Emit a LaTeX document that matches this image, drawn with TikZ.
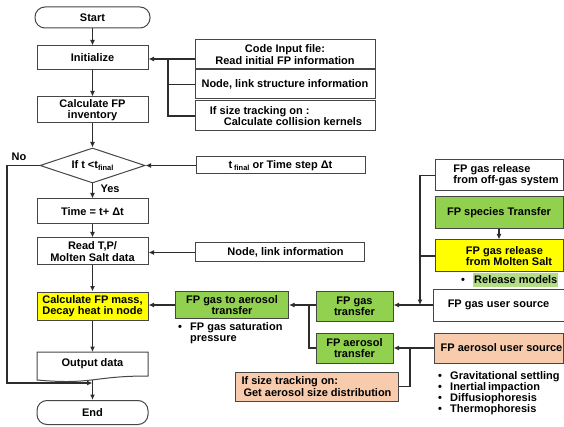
\documentclass[tikz,border=0pt]{standalone}
\usepackage{fontspec}
\setmainfont{Liberation Sans}
\usetikzlibrary{arrows.meta,shapes.geometric}
\definecolor{bc}{RGB}{70,70,70}
\definecolor{lc}{RGB}{45,45,45}
\definecolor{gr}{RGB}{146,208,80}
\definecolor{ye}{RGB}{255,255,0}
\definecolor{pe}{RGB}{248,203,173}
\newcommand\tsub[1]{\raisebox{-2pt}{\fontsize{7.5}{7.5}\selectfont #1}}
\newcommand\bul{\makebox[12pt][l]{•}}
\begin{document}
\begin{tikzpicture}[x=1pt,y=-1pt,
  font=\fontsize{11}{11.2}\selectfont\bfseries,
  box/.style={draw=bc, line width=1pt, inner sep=0pt, align=center, fill=white},
  gbox/.style={box, fill=gr},
  ybox/.style={box, fill=ye},
  pbox/.style={box, fill=pe},
  arr/.style={-{Latex[length=5.5pt,width=5pt]}, line width=1.1pt, draw=lc},
  ln/.style={line width=1.1pt, draw=lc},
  txt/.style={inner sep=0pt, align=left}]
\useasboundingbox (0,0) rectangle (564,427);

% ---- left column
\node[box, rounded corners=10pt, minimum width=115pt, minimum height=21pt] (start) at (92.5,17.5) {Start};
\node[box, minimum width=111pt, minimum height=24pt] (init) at (92.5,58) {Initialize};
\node[box, minimum width=111pt, minimum height=26pt] (calc) at (92.5,110) {Calculate FP\\inventory};
\node[box, shape=diamond, aspect=3, minimum width=105pt, minimum height=35pt] (dec) at (92.5,165.5) {\raisebox{-3pt}{If t <t\tsub{final}}};
\node[box, minimum width=111pt, minimum height=25pt] (time) at (92.5,211.5) {Time = t+ Δt};
\node[box, minimum width=111pt, minimum height=27pt] (read) at (92.5,251.5) {Read T,P/\\Molten Salt data};
\node[ybox, minimum width=111pt, minimum height=28pt] (mass) at (92.5,306) {Calculate FP mass,\\Decay heat in node};
\draw[draw=bc, line width=1pt, fill=white] (37,352) -- (148,352) -- (148,376) .. controls (92.5,376) and (92.5,385) .. (37,380) -- cycle;
\node[txt] (out) at (92.5,364) {Output data};
\coordinate (outb) at (92.5,380);
\node[box, rounded corners=10pt, minimum width=111pt, minimum height=24pt] (end) at (92.5,412.5) {End};

\node[txt] (no) at (19,157) {No};
\node[txt] (yes) at (110,189) {Yes};

% ---- top right inputs
\node[box, minimum width=180pt, minimum height=29pt] (code) at (285,54.5) {Code Input file:\\Read initial FP information};
\node[box, minimum width=180pt, minimum height=29pt] (struct) at (285,84.5) {Node, link structure information};
\node[box, minimum width=180pt, minimum height=30pt, align=left] (size) at (285,116) {\hspace*{2pt}If size tracking on :\\\hspace*{16pt}Calculate collision kernels};
\node[box, minimum width=169pt, minimum height=17pt] (tfin) at (280.5,165.5) {t\,\tsub{final} or Time step Δt};
\node[box, minimum width=169pt, minimum height=19pt] (linfo) at (279.5,252.5) {\hspace*{12pt}Node, link information};

% ---- right column
\node[box, minimum width=128pt, minimum height=31pt, align=left] (offgas) at (499,175.5) {\hspace*{14pt}FP gas release\\\hspace*{14pt}from off-gas system};
\node[gbox, minimum width=128pt, minimum height=32pt] (species) at (499,213) {FP species Transfer};
\node[ybox, minimum width=128pt, minimum height=32pt, align=left] (molten) at (499,256) {\hspace*{20pt}FP gas release\\\hspace*{20pt}from Molten Salt};
\node[txt, anchor=west] (rel) at (461,280) {\bul\colorbox{gr!70}{\hspace*{-2pt}Release models\hspace*{-2pt}}};
\node[box, minimum width=131pt, minimum height=32pt] (gasuser) at (498.5,305) {FP gas user source};
\node[pbox, minimum width=129pt, minimum height=30pt] (aeruser) at (498.5,348) {\hspace*{6pt}FP aerosol user source};
\node[txt, anchor=north west, font=\fontsize{11}{11}\selectfont\bfseries] (mech) at (438,371) {\bul Gravitational settling\\\bul Inertial\,impaction\\\bul Diffusiophoresis\\\bul Thermophoresis};

% ---- middle
\node[gbox, minimum width=77pt, minimum height=30pt] (gastr) at (354.5,306) {FP gas\\transfer};
\node[gbox, minimum width=77pt, minimum height=30pt] (aertr) at (354.5,348) {FP aerosol\\transfer};
\node[gbox, minimum width=113pt, minimum height=27pt] (gasaer) at (232,305) {FP gas to aerosol\\transfer};
\node[txt, anchor=north west] (sat) at (178,322) {\bul FP gas saturation\\\hspace*{12pt}pressure};
\node[pbox, minimum width=163pt, minimum height=29pt, align=left] (sizeon) at (316.5,386.5) {If size tracking on:\\\hspace*{2pt}Get aerosol size distribution};

% ---- main flow connectors
\draw[arr] (start) -- (init);
\draw[arr] (init) -- (calc);
\draw[arr] (calc) -- (dec.north);
\draw[arr] (dec.south) -- (time);
\draw[arr] (time) -- (read);
\draw[arr] (read) -- (mass);
\draw[arr] (mass) -- (92.5,352);
\draw[arr] (outb) -- (end);
\coordinate (lp1) at (7,165.5);
\coordinate (lp2) at (7,383);
\coordinate (lp3) at (92.5,383);
\draw[arr] (dec.west) -- (lp1) -- (lp2) -- (lp3);

% ---- input connectors
\coordinate (bx) at (168,59);
\draw[arr] (bx) -- (init.east |- bx);
\draw[ln] (code.west |- bx) -- (bx);
\draw[ln] (struct.west) -- (168,84.5) -- (bx);
\draw[ln] (size.west) -- (168,116) -- (168,84.5);
\draw[arr] (tfin) -- (dec.east);
\draw[arr] (linfo.west) -- (read.east |- linfo.west);

% ---- right side connectors
\coordinate (v1) at (420,175.5);
\coordinate (v2) at (420,305);
\draw[ln] (offgas.west) -- (v1);
\draw[arr] (v1) -- (v2);
\draw[ln] (molten.west) -- (420,256);
\draw[arr] (species) -- (molten);
\draw[arr] (gasuser.west) -- (gastr.east |- gasuser.west);
\draw[arr] (gastr.west |- gasaer.east) -- (gasaer.east);
\draw[ln] (309,305) -- (309,348) -- (aertr.west);
\draw[arr] (gasaer.west) -- (mass.east |- gasaer.west);
\draw[arr] (aeruser.west) -- (aertr.east);
\draw[ln] (410,348) -- (410,386.5) -- (sizeon.east);
\end{tikzpicture}
\end{document}
